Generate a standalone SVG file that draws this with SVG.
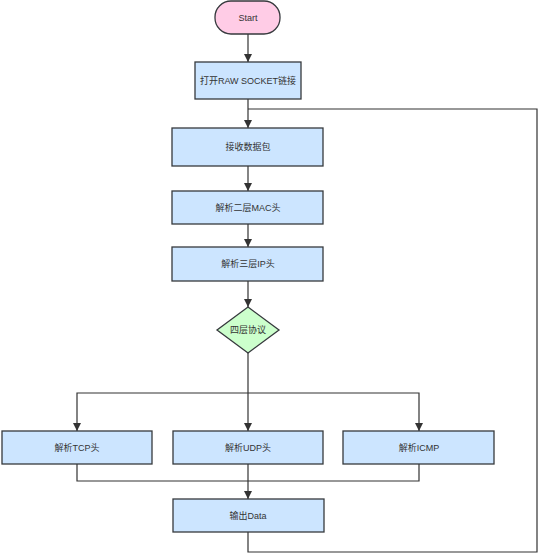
<svg xmlns="http://www.w3.org/2000/svg" width="539" height="554" viewBox="0 0 539 554">
<style>
.box{fill:#cce5ff;stroke:#36393d;stroke-width:1.3}
.t{font-family:"Liberation Sans","Noto Sans CJK SC",sans-serif;font-size:9px;fill:#333;text-anchor:middle;dominant-baseline:central}
.c{fill:none;stroke:#333;stroke-width:1.2}
</style>
<defs>
<marker id="a" viewBox="0 0 10 10" refX="10" refY="5" markerWidth="8" markerHeight="8" markerUnits="userSpaceOnUse" orient="auto">
<path d="M0,0 L10,5 L0,10 z" fill="#333"/>
</marker>
</defs>
<rect width="539" height="554" fill="#fff"/>
<g id="connectors">
<path class="c" d="M248,34 V62" marker-end="url(#a)"/>
<path class="c" d="M248,99 V128" marker-end="url(#a)"/>
<path class="c" d="M248,166 V191" marker-end="url(#a)"/>
<path class="c" d="M248,224 V247" marker-end="url(#a)"/>
<path class="c" d="M248,281 V307" marker-end="url(#a)"/>
<path class="c" d="M248,353 V431" marker-end="url(#a)"/>
<path class="c" d="M248,393 H77 V431" marker-end="url(#a)"/>
<path class="c" d="M248,393 H419 V431" marker-end="url(#a)"/>
<path class="c" d="M248,464 V499" marker-end="url(#a)"/>
<path class="c" d="M77,464 V481 H419 V464"/>
<path class="c" d="M248,532 V552 H537 V109 H248"/>
</g>
<g id="start">
<rect x="215" y="1" width="65" height="33" rx="16" fill="#ffcce6" stroke="#36393d" stroke-width="1.3"/>
<text class="t" x="248" y="18">Start</text>
</g>
<g id="open">
<rect class="box" x="195" y="62" width="106" height="37"/>
<text class="t" x="248" y="81">打开RAW SOCKET链接</text>
</g>
<g id="recv">
<rect class="box" x="172" y="128" width="151" height="38"/>
<text class="t" x="248" y="147">接收数据包</text>
</g>
<g id="mac">
<rect class="box" x="172" y="191" width="151" height="33"/>
<text class="t" x="248" y="208">解析二层MAC头</text>
</g>
<g id="ip">
<rect class="box" x="172" y="247" width="151" height="34"/>
<text class="t" x="248" y="264">解析三层IP头</text>
</g>
<g id="l4">
<path d="M248,307 L279,330 L248,353 L217,330 Z" fill="#ccffcc" stroke="#36393d" stroke-width="1.3"/>
<text class="t" x="248" y="330">四层协议</text>
</g>
<g id="tcp">
<rect class="box" x="2" y="431" width="150" height="33"/>
<text class="t" x="77" y="448">解析TCP头</text>
</g>
<g id="udp">
<rect class="box" x="173" y="431" width="150" height="33"/>
<text class="t" x="248" y="448">解析UDP头</text>
</g>
<g id="icmp">
<rect class="box" x="343" y="431" width="151" height="33"/>
<text class="t" x="419" y="448">解析ICMP</text>
</g>
<g id="output">
<rect class="box" x="173" y="499" width="151" height="33"/>
<text class="t" x="248" y="516">输出Data</text>
</g>
</svg>
